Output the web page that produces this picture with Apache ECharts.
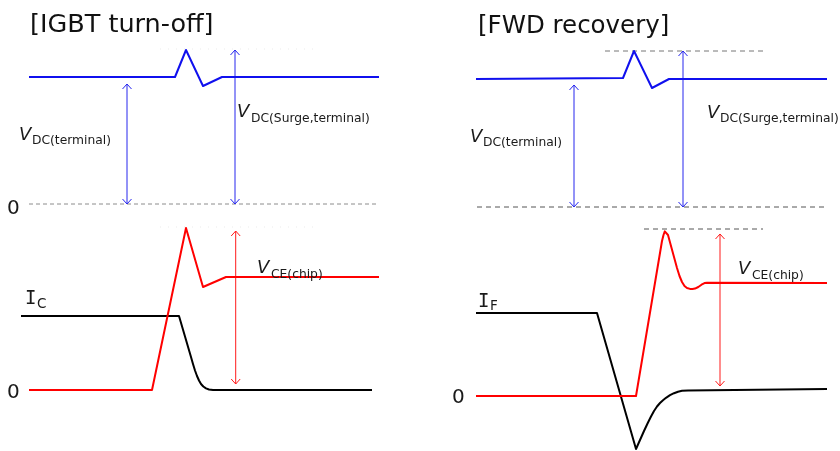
<!DOCTYPE html>
<html>
<head>
<meta charset="utf-8">
<script src="https://cdn.jsdelivr.net/npm/echarts@6/dist/echarts.min.js"></script>
<style>
html,body{margin:0;padding:0;background:#fff;}
#chart{width:840px;height:451px;}
</style>
</head>
<body>
<div id="chart"></div>
<script>
// ---------- DATA (time in a.u., signal in a.u.; 0 = each trace's zero level) ----------
// Left panel: IGBT turn-off
const igbtVdcT = [29, 175, 186, 203, 222, 379];
const igbtVdcV = [127, 127, 154, 118, 127, 127];
const igbtVceT = [29, 152, 186, 203, 226, 379];
const igbtVceV = [0, 0, 162, 103, 113, 113];
const igbtIcT  = [21, 179, 191, 193, 195, 197, 199, 201, 203.3, 206, 209, 213, 372];
const igbtIcV  = [74, 74, 33, 26, 19.5, 14, 9.5, 6, 3.5, 1.6, 0.5, 0, 0];
// Right panel: FWD recovery
const fwdVdcT = [56, 203, 214, 232, 249, 407];
const fwdVdcV = [128, 129, 156, 119, 128, 128];
const fwdVceT = [56, 216, 242, 243.5, 244.8, 245.7, 246.7, 248, 254, 257, 259.5, 262, 264.5, 267, 270, 272.5, 275, 278.3, 281.5, 284.5, 287, 407];
const fwdVceV = [0, 0, 155, 161, 164.6, 166, 165, 161, 139, 128, 120, 114, 110, 108, 107.1, 107, 107.4, 109, 111.3, 112.9, 113.3, 113];
const fwdIfT  = [56, 177, 216, 220, 224, 228, 231, 234, 237, 240, 243, 246, 250, 254, 258, 262, 268, 407];
const fwdIfV  = [83, 83, -53, -44, -35, -26.5, -20.5, -15, -10.5, -7, -4.2, -1.8, 0.8, 2.8, 4.3, 5.2, 5.6, 7];

// Reference (dashed) lines: [tStart, tEnd, level]
const igbtZeroRef   = [29, 378, 0];
const igbtFaintTop  = [160, 315, 155];
const igbtFaintBot  = [160, 315, 163];
const fwdZeroRef    = [57, 406, 0];
const fwdSurgeRef   = [185, 343, 156];
const fwdPeakRef    = [224, 343, 167];

// Arrows: [t, from, to]
const igbtArrowVdc   = [127, 0, 120];
const igbtArrowSurge = [235, 0, 154];
const igbtArrowVce   = [235.7, 6, 159];
const fwdArrowVdc    = [154, 0, 122];
const fwdArrowSurge  = [263, 0, 156];
const fwdArrowVce    = [300, 10, 162];

// Zero levels (rows) of each trace group, used to set axis ranges
const zeroRows = [204, 390, 207, 396];
const canvasH = 451;

// ---------- BUILD ----------
const zip = (t, v) => t.map((x, i) => [x, v[i]]);
const series = [];
function wave(t, v, color, xi, yi) {
  series.push({type: 'line', xAxisIndex: xi, yAxisIndex: yi, data: zip(t, v),
    symbol: 'none', lineStyle: {color: color, width: 2, join: 'round'}, silent: true, animation: false, z: 5});
}
function ref(r, color, dash, xi, yi, width) {
  series.push({type: 'line', xAxisIndex: xi, yAxisIndex: yi, data: [[r[0], r[2]], [r[1], r[2]]],
    symbol: 'none', lineStyle: {color: color, width: width || 1, type: dash}, silent: true, animation: false, z: 2});
}
function arrow(a, color, xi, yi) {
  const [t, from, to] = a, hw = 4.5, hl = 5;
  const base = {type: 'line', xAxisIndex: xi, yAxisIndex: yi, symbol: 'none',
    lineStyle: {color: color, width: 1}, silent: true, animation: false, z: 3};
  series.push(Object.assign({}, base, {data: [[t, from], [t, to]]}));
  series.push(Object.assign({}, base, {data: [[t - hw, to - hl], [t, to], [t + hw, to - hl]]}));
  series.push(Object.assign({}, base, {data: [[t - hw, from + hl], [t, from], [t + hw, from + hl]]}));
}

// left panel
ref(igbtFaintTop, '#ebebeb', [1, 7], 0, 0);
ref(igbtFaintBot, '#ebebeb', [1, 7], 0, 1);
ref(igbtZeroRef, '#8c8c8c', [4, 3], 0, 0);
wave(igbtVdcT, igbtVdcV, '#1010ee', 0, 0);
wave(igbtIcT, igbtIcV, '#000000', 0, 1);
wave(igbtVceT, igbtVceV, '#ff0000', 0, 1);
arrow(igbtArrowVdc, '#2626ee', 0, 0);
arrow(igbtArrowSurge, '#2626ee', 0, 0);
arrow(igbtArrowVce, '#ff1a1a', 0, 1);
// right panel
ref(fwdSurgeRef, '#777777', [5, 4], 1, 2);
ref(fwdZeroRef, '#555555', [5, 4], 1, 2);
ref(fwdPeakRef, '#555555', [5, 4], 1, 3);
wave(fwdVdcT, fwdVdcV, '#1010ee', 1, 2);
wave(fwdIfT, fwdIfV, '#000000', 1, 3);
wave(fwdVceT, fwdVceV, '#ff0000', 1, 3);
arrow(fwdArrowVdc, '#2626ee', 1, 2);
arrow(fwdArrowSurge, '#2626ee', 1, 2);
arrow(fwdArrowVce, '#ff1a1a', 1, 3);

const font = '"DejaVu Sans", Verdana, sans-serif';
function txt(x, y, s, size, opts) {
  opts = opts || {};
  return {type: 'text', x: x, y: y, silent: true, z: 10,
    style: {text: s, fill: opts.fill || '#1a1a1a', fontFamily: opts.family || font, fontSize: size,
      fontStyle: opts.italic ? 'italic' : 'normal', verticalAlign: 'middle', align: 'left'}};
}
function vlabel(x, y, sub, xs, ys) {
  return [txt(x, y, 'V', 18, {italic: true}), txt(xs, ys, sub, 12.3)];
}
const mono = '"DejaVu Sans Mono", monospace';
const graphic = [
  txt(30, 25, '[IGBT turn-off]', 25.5, {fill: '#111'}),
  txt(478, 27, '[FWD recovery]', 24.5, {fill: '#111'}),
  txt(7, 209, '0', 20),
  txt(7, 393, '0', 20),
  txt(452, 397.5, '0', 20),
  txt(25, 299.5, 'I', 19, {family: mono}), txt(37, 304.5, 'C', 13.5),
  txt(478, 302, 'I', 19, {family: mono}), txt(490, 306, 'F', 13.5),
  ...vlabel(19, 135, 'DC(terminal)', 32, 141),
  ...vlabel(237, 112, 'DC(Surge,terminal)', 251, 118.5),
  ...vlabel(470, 137, 'DC(terminal)', 483, 143),
  ...vlabel(707, 113, 'DC(Surge,terminal)', 720, 118.5),
  ...vlabel(257, 268, 'CE(chip)', 271, 274.5),
  ...vlabel(738, 269, 'CE(chip)', 752, 276)
];

const chart = echarts.init(document.getElementById('chart'), null, {renderer: 'canvas'});
chart.setOption({
  animation: false,
  backgroundColor: '#ffffff',
  grid: [
    {left: 0, top: 0, width: 420, height: canvasH, containLabel: false},
    {left: 420, top: 0, width: 420, height: canvasH, containLabel: false}
  ],
  xAxis: [
    {type: 'value', gridIndex: 0, min: 0, max: 420, show: false},
    {type: 'value', gridIndex: 1, min: 0, max: 420, show: false}
  ],
  yAxis: [
    {type: 'value', gridIndex: 0, min: zeroRows[0] - canvasH, max: zeroRows[0], show: false},
    {type: 'value', gridIndex: 0, min: zeroRows[1] - canvasH, max: zeroRows[1], show: false},
    {type: 'value', gridIndex: 1, min: zeroRows[2] - canvasH, max: zeroRows[2], show: false},
    {type: 'value', gridIndex: 1, min: zeroRows[3] - canvasH, max: zeroRows[3], show: false}
  ],
  series: series,
  graphic: graphic
});
</script>
</body>
</html>
